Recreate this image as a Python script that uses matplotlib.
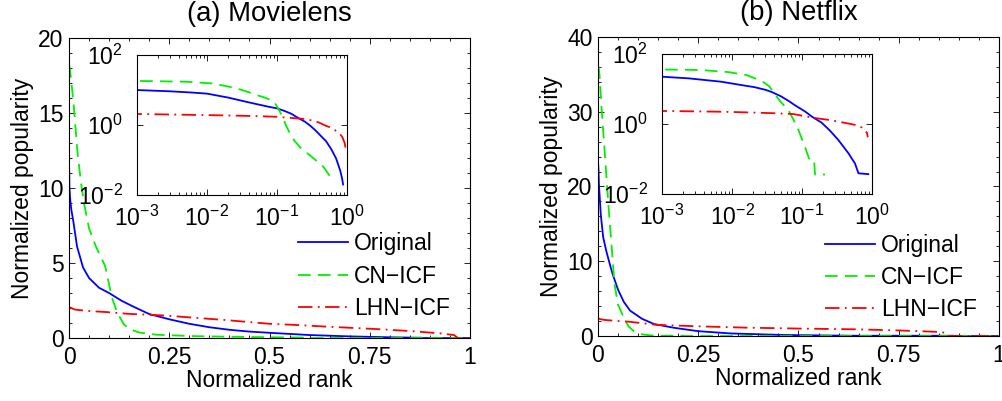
import matplotlib
matplotlib.use("Agg")
import matplotlib.pyplot as plt
from matplotlib.ticker import MultipleLocator, LogLocator, NullFormatter, NullLocator

plt.rcParams['font.family'] = ['Liberation Sans', 'DejaVu Sans']
plt.rcParams['font.size'] = 16.5
plt.rcParams['mathtext.fontset'] = 'custom'
plt.rcParams['mathtext.rm'] = 'Liberation Sans'
plt.rcParams['mathtext.it'] = 'Liberation Sans:italic'
plt.rcParams['mathtext.default'] = 'regular'
plt.rcParams['axes.linewidth'] = 0.8

labels = ['Original', 'CN\u2212ICF', 'LHN\u2212ICF']
titles = ['(a) Movielens', '(b) Netflix']

# Movielens
ml_orig_r = [0.0003, 0.001, 0.003, 0.006, 0.01, 0.02, 0.035, 0.05, 0.075, 0.1, 0.13, 0.16, 0.2, 0.25,
             0.3, 0.35, 0.4, 0.45, 0.5, 0.6, 0.7, 0.8, 0.85, 0.88, 0.885, 1.0]
ml_orig_v = [11.3, 10.0, 9.2, 8.5, 7.9, 6.1, 4.7, 4.0, 3.35, 3.0, 2.5, 2.1, 1.6, 1.25,
             0.95, 0.72, 0.55, 0.43, 0.35, 0.2, 0.11, 0.05, 0.03, 0.02, 0.0, 0.0]
ml_cn_r = [0.0003, 0.0012, 0.005, 0.0117, 0.021, 0.03, 0.038, 0.05, 0.067, 0.09, 0.107, 0.12, 0.137,
           0.155, 0.175, 0.218, 0.313, 0.46, 0.58, 0.6, 1.0]
ml_cn_v = [18.2, 18.1, 17.3, 15.5, 12.4, 10.3, 8.9, 7.3, 6.1, 4.8, 2.7, 1.7, 0.9,
           0.55, 0.37, 0.22, 0.124, 0.064, 0.033, 0.0, 0.0]
ml_lhn_r = [0.0003, 0.0012, 0.014, 0.046, 0.094, 0.145, 0.24, 0.3, 0.39, 0.5, 0.56, 0.65, 0.78,
            0.86, 0.93, 0.96, 0.97, 1.0]
ml_lhn_v = [2.07, 2.06, 1.9, 1.81, 1.73, 1.62, 1.5, 1.38, 1.2, 0.95, 0.88, 0.75, 0.58,
            0.45, 0.3, 0.2, 0.0, 0.0]

# Netflix
nf_orig_r = [0.0003, 0.001, 0.0024, 0.007, 0.013, 0.021, 0.03, 0.037, 0.05, 0.064, 0.08, 0.11, 0.14,
             0.19, 0.25, 0.33, 0.46, 0.57, 0.64, 0.885, 0.89, 1.0]
nf_orig_v = [23.0, 22.5, 20.2, 16.2, 13.2, 11.3, 9.5, 8.2, 6.2, 4.6, 3.4, 2.3, 1.6,
             1.1, 0.65, 0.35, 0.146, 0.075, 0.039, 0.037, 0.0, 0.0]
nf_cn_r = [0.0003, 0.00124, 0.0036, 0.0089, 0.0162, 0.0267, 0.034, 0.041, 0.05, 0.064, 0.076, 0.089,
           0.11, 0.133, 0.15, 0.153, 0.213, 0.216, 1.0]
nf_cn_v = [36.0, 36.0, 35.0, 30.5, 25.0, 17.0, 12.0, 7.0, 4.2, 2.5, 1.3, 0.67,
           0.225, 0.075, 0.075, 0.036, 0.036, 0.0, 0.0]
nf_lhn_r = [0.0003, 0.0013, 0.0067, 0.0153, 0.046, 0.075, 0.146, 0.25, 0.37, 0.5, 0.64, 0.75, 0.85,
            0.87, 0.875, 1.0]
nf_lhn_v = [2.38, 2.35, 2.25, 2.16, 2.02, 1.93, 1.5, 1.3, 1.12, 1.0, 0.9, 0.75, 0.55,
            0.42, 0.0, 0.0]

data = [
    [(ml_orig_r, ml_orig_v), (ml_cn_r, ml_cn_v), (ml_lhn_r, ml_lhn_v)],
    [(nf_orig_r, nf_orig_v), (nf_cn_r, nf_cn_v), (nf_lhn_r, nf_lhn_v)],
]
ymax = [20, 40]
ystep = [5, 10]
yminor = [1, 2]
colors = ['#0000ff', '#00f000', '#ff0000']
dashes = [None, (7, 4), (8, 3, 1, 3)]

main_pos = [[0.0689, 0.157, 0.4002, 0.748], [0.5968, 0.162, 0.4002, 0.746]]
inset_pos = [[0.1367, 0.5137, 0.2096, 0.349], [0.6607, 0.5162, 0.2096, 0.349]]
leg_anchor = [(0.571, 0.352), (0.566, 0.342)]


def draw(ax, series):
    for (r, v), c, d, lab in zip(series, colors, dashes, labels):
        line, = ax.plot(r, v, color=c, linewidth=1.3, label=lab)
        if d is not None:
            line.set_dashes(d)


fig = plt.figure(figsize=(10.02, 4.01), dpi=100)

for k in range(2):
    ax = fig.add_axes(main_pos[k])
    draw(ax, data[k])
    ax.set_xlim(0, 1)
    ax.set_ylim(0, ymax[k])
    ax.set_xticks([0, 0.25, 0.5, 0.75, 1])
    ax.set_xticklabels(['0', '0.25', '0.5', '0.75', '1'])
    ax.yaxis.set_major_locator(MultipleLocator(ystep[k]))
    ax.yaxis.set_minor_locator(MultipleLocator(yminor[k]))
    ax.xaxis.set_minor_locator(MultipleLocator(0.05))
    ax.tick_params(which='both', direction='in', top=True, right=True)
    ax.tick_params(which='major', length=4, width=0.6)
    ax.tick_params(which='minor', length=2, width=0.6)
    ax.tick_params(axis='x', pad=6)
    ax.tick_params(axis='y', pad=4)
    ax.set_xlabel('Normalized rank', labelpad=0)
    ax.set_ylabel('Normalized popularity', labelpad=3)
    ax.set_title(titles[k], pad=12)
    ax.legend(loc='upper left', bbox_to_anchor=leg_anchor[k], frameon=False,
              borderpad=0, borderaxespad=0, handlelength=2.2, handletextpad=0.25,
              labelspacing=0.4)

    ins = fig.add_axes(inset_pos[k])
    draw(ins, data[k])
    ins.set_xscale('log', nonpositive='mask')
    ins.set_yscale('log', nonpositive='mask')
    ins.set_xlim(1e-3, 1)
    ins.set_ylim(1e-2, 1e2)
    ins.set_xticks([1e-3, 1e-2, 1e-1, 1])
    ins.set_yticks([1e-2, 1, 1e2])
    ins.xaxis.set_minor_locator(LogLocator(base=10, subs=range(2, 10)))
    ins.xaxis.set_minor_formatter(NullFormatter())
    ins.yaxis.set_minor_locator(NullLocator())
    ins.tick_params(which='both', direction='in', top=True, right=True)
    ins.tick_params(which='major', length=4, width=0.6)
    ins.tick_params(which='minor', length=2, width=0.6)
    ins.tick_params(axis='x', pad=8)
    ins.tick_params(axis='y', pad=10)

fig.savefig('out.png', dpi=100)
